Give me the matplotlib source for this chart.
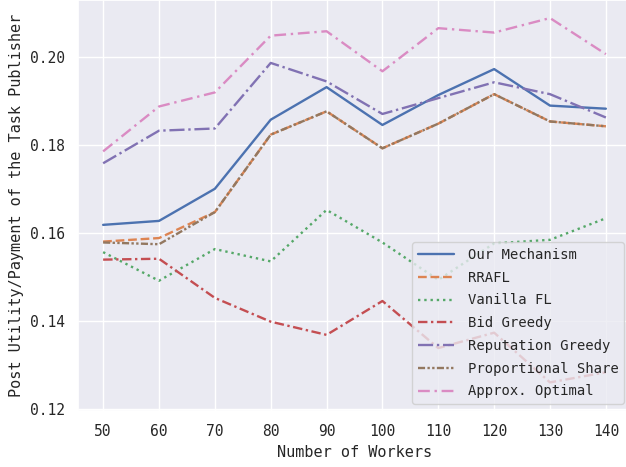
import numpy as np
import matplotlib
matplotlib.use("Agg")
import matplotlib.pyplot as plt
import seaborn as sns

# valeurs
workers = [50, 60, 70, 80, 90, 100, 110, 120, 130, 140]

our_mechanism = [0.1618, 0.1627, 0.1700, 0.1857, 0.1931, 0.1845, 0.1913, 0.1972, 0.1889, 0.1882]
rrafl = [0.1580, 0.1588, 0.1647, 0.1823, 0.1876, 0.1792, 0.1848, 0.1915, 0.1853, 0.1842]
vanilla_fl = [0.1556, 0.1491, 0.1563, 0.1535, 0.1652, 0.1578, 0.1493, 0.1576, 0.1584, 0.1633]
bid_greedy = [0.1539, 0.1541, 0.1452, 0.1398, 0.1368, 0.1445, 0.1338, 0.1373, 0.1260, 0.1283]
reputation_greedy = [0.1758, 0.1832, 0.1837, 0.1986, 0.1944, 0.1870, 0.1906, 0.1942, 0.1915, 0.1862]
proportional_share = [0.1578, 0.1574, 0.1647, 0.1823, 0.1876, 0.1792, 0.1848, 0.1915, 0.1853, 0.1842]
approx_optimal = [0.1785, 0.1887, 0.1919, 0.2048, 0.2058, 0.1967, 0.2065, 0.2055, 0.2088, 0.2006]

labels = ["Our Mechanism", "RRAFL", "Vanilla FL", "Bid Greedy",
          "Reputation Greedy", "Proportional Share", "Approx. Optimal"]

sns.set_theme(style="darkgrid", palette="deep")
plt.rcParams['font.family'] = ['DejaVu Sans Mono']

colors = sns.color_palette("deep")
styles = ["-", "--", ":", (0, (4, 1.5, 1, 1.5)), "-.",
          (0, (3, 1, 1, 1, 1, 1)), (0, (5, 2, 1, 2))]
series = [our_mechanism, rrafl, vanilla_fl, bid_greedy,
          reputation_greedy, proportional_share, approx_optimal]

fig = plt.figure(figsize=(6.26, 4.67), dpi=100)
# axes de 78 px a 631 px en x, de 411 px a ~0 px en y
ax = fig.add_axes([78 / 626, (467 - 411) / 467, 553 / 626, 411 / 467])

for i, (vals, lab) in enumerate(zip(series, labels)):
    ax.plot(workers, vals, linestyle=styles[i], color=colors[i],
            linewidth=1.7, label=lab)

ax.set_xlim(45.5, 144.5)
ax.set_ylim(0.1195, 0.2129)
ax.set_xticks(workers)
ax.set_yticks([0.12, 0.14, 0.16, 0.18, 0.20])
ax.set_yticklabels(["0.12", "0.14", "0.16", "0.18", "0.20"])
ax.tick_params(labelsize=10.5)

ax.set_xlabel("Number of Workers", fontsize=11)
ax.set_ylabel("Post Utility/Payment of the Task Publisher", fontsize=11)

ax.legend(loc="lower right", fontsize=10, handlelength=2.6,
          labelspacing=0.63, handletextpad=1.0)

fig.savefig("out.png", dpi=100)
